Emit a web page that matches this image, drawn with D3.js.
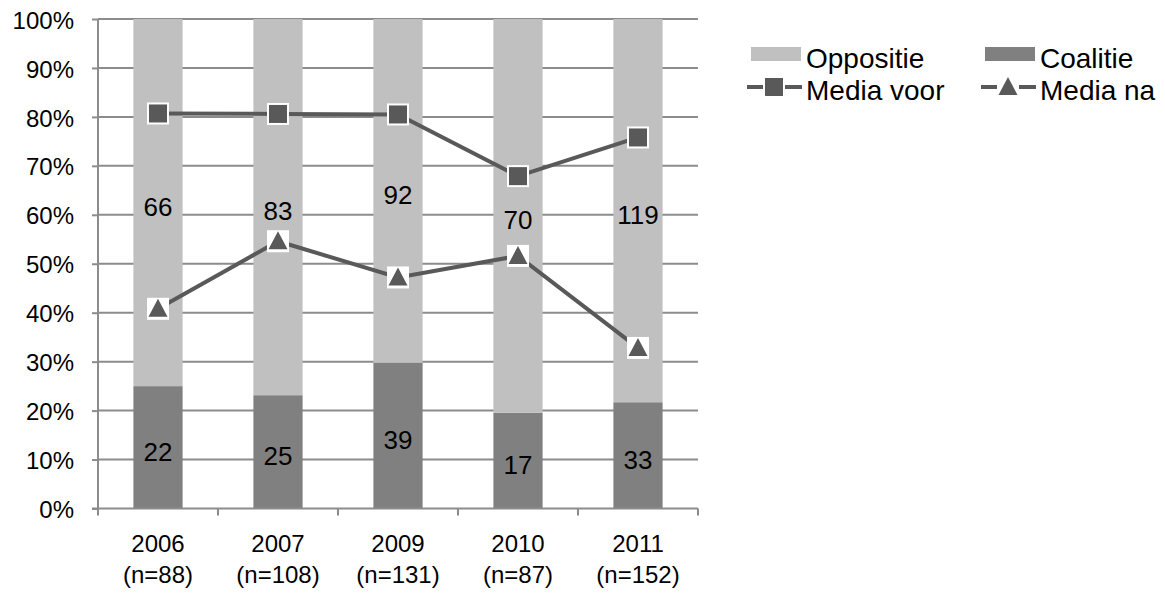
<!DOCTYPE html>
<html>
<head>
<meta charset="utf-8">
<script src="https://cdn.jsdelivr.net/npm/d3@7"></script>
<style>
  html, body { margin: 0; padding: 0; background: #fff; }
  svg { display: block; font-family: "Liberation Sans", Arial, Helvetica, sans-serif; }
</style>
</head>
<body>
<svg id="chart" width="1165" height="594"></svg>
<script>
// ---- data ----
const years = ["2006", "2007", "2009", "2010", "2011"];
const nLabels = ["(n=88)", "(n=108)", "(n=131)", "(n=87)", "(n=152)"];
const coalitie = [22, 25, 39, 17, 33];
const oppositie = [66, 83, 92, 70, 119];
const mediaVoor = [80.7, 80.6, 80.5, 67.9, 75.8];
const mediaNa = [40.8, 54.6, 47.2, 51.6, 32.8];
const yTicks = [0, 10, 20, 30, 40, 50, 60, 70, 80, 90, 100];

const colOpp = "#c0c0c0", colCoal = "#808080", colLine = "#595959", colGrid = "#8c8c8c";

const svg = d3.select("#chart");
const m = { left: 98, right: 698, top: 19, bottom: 508.5 };

const x = d3.scaleBand().domain(years).range([m.left, m.right]).paddingInner(0.59).paddingOuter(0.295);
const xc = d => x(d) + x.bandwidth() / 2;
const y = d3.scaleLinear().domain([0, 100]).range([m.bottom, m.top]);

// gridlines
svg.append("g").selectAll("line").data(yTicks.filter(t => t > 0)).join("line")
  .attr("x1", m.left).attr("x2", m.right)
  .attr("y1", d => y(d)).attr("y2", d => y(d))
  .attr("stroke", colGrid).attr("stroke-width", 2);

// stacked 100% bars
const rows = years.map((yr, i) => {
  const tot = coalitie[i] + oppositie[i];
  const c = coalitie[i] / tot * 100;
  return { yr, c, o: 100 - c, cn: coalitie[i], on: oppositie[i] };
});
const bars = svg.append("g");
bars.selectAll("rect.coal").data(rows).join("rect").attr("class", "coal")
  .attr("x", d => x(d.yr)).attr("width", x.bandwidth())
  .attr("y", d => y(d.c)).attr("height", d => y(0) - y(d.c))
  .attr("fill", colCoal);
bars.selectAll("rect.opp").data(rows).join("rect").attr("class", "opp")
  .attr("x", d => x(d.yr)).attr("width", x.bandwidth())
  .attr("y", d => y(100)).attr("height", d => y(d.c) - y(100))
  .attr("fill", colOpp);

// data labels
const lbl = svg.append("g").attr("font-size", 26).attr("text-anchor", "middle").attr("fill", "#000");
lbl.selectAll("text.c").data(rows).join("text").attr("class", "c")
  .attr("x", d => xc(d.yr)).attr("y", d => y(d.c / 2) + 4).attr("dy", "0.36em").text(d => d.cn);
lbl.selectAll("text.o").data(rows).join("text").attr("class", "o")
  .attr("x", d => xc(d.yr)).attr("y", d => y(d.c + d.o / 2) + 4).attr("dy", "0.36em").text(d => d.on);

// axes
const yAxis = d3.axisLeft(y).tickValues(yTicks).tickSize(6).tickFormat(d => d + "%");
const gy = svg.append("g").attr("transform", `translate(${m.left},0)`).call(yAxis);
gy.select(".domain").attr("stroke", colGrid).attr("stroke-width", 2).attr("d", `M-6,${y(0)}H0V${y(100)}`);
gy.selectAll(".tick line").attr("stroke", colGrid).attr("stroke-width", 2);
gy.selectAll(".tick text").attr("font-size", 24).attr("fill", "#000").attr("x", -24).attr("dy", "0.38em")
  .attr("font-family", "Liberation Sans, Arial, sans-serif");

const xEdges = d3.scaleLinear().domain([0, years.length]).range([m.left, m.right]);
const gx = svg.append("g");
gx.append("line").attr("x1", m.left).attr("x2", m.right).attr("y1", y(0)).attr("y2", y(0))
  .attr("stroke", colGrid).attr("stroke-width", 2);
gx.selectAll("line.t").data(d3.range(years.length + 1)).join("line").attr("class", "t")
  .attr("x1", d => xEdges(d)).attr("x2", d => xEdges(d))
  .attr("y1", y(0)).attr("y2", y(0) + 7)
  .attr("stroke", colGrid).attr("stroke-width", 2);
const xl = gx.selectAll("text.xl").data(years).join("text").attr("class", "xl")
  .attr("x", d => xc(d)).attr("text-anchor", "middle").attr("font-size", 24).attr("fill", "#000");
xl.append("tspan").attr("x", d => xc(d)).attr("y", 552).text(d => d);
xl.append("tspan").attr("x", d => xc(d)).attr("y", 583).text((d, i) => nLabels[i]);

// lines
const line = d3.line().x((d, i) => xc(years[i])).y(d => y(d));
function drawSeries(vals, shape) {
  const g = svg.append("g");
  g.append("path").attr("d", line(vals)).attr("fill", "none")
    .attr("stroke", colLine).attr("stroke-width", 4);
  vals.forEach((v, i) => drawMarker(g, xc(years[i]), y(v), shape));
}
function drawMarker(g, cx, cy, shape) {
  g.append("rect").attr("x", cx - 11).attr("y", cy - 11).attr("width", 22).attr("height", 22).attr("fill", "#fff");
  if (shape === "square") {
    g.append("rect").attr("x", cx - 9).attr("y", cy - 9).attr("width", 18).attr("height", 18).attr("fill", colLine);
  } else {
    g.append("path").attr("d", `M${cx},${cy - 10}L${cx + 9.5},${cy + 8}L${cx - 9.5},${cy + 8}Z`).attr("fill", colLine);
  }
}
drawSeries(mediaVoor, "square");
drawSeries(mediaNa, "triangle");

// legend
const legend = svg.append("g").attr("font-size", 28).attr("fill", "#000");
const legItems = [
  { name: "Oppositie", type: "rect", color: colOpp, sx: 751, tx: 806, cy: 54, ty: 58 },
  { name: "Coalitie", type: "rect", color: colCoal, sx: 985, tx: 1040, cy: 54, ty: 58 },
  { name: "Media voor", type: "square", sx: 747, tx: 806, cy: 87, ty: 90 },
  { name: "Media na", type: "triangle", sx: 981, tx: 1040, cy: 87, ty: 90 }
];
legItems.forEach(it => {
  if (it.type === "rect") {
    legend.append("rect").attr("x", it.sx).attr("y", it.cy - 7).attr("width", 50).attr("height", 14).attr("fill", it.color);
  } else {
    legend.append("line").attr("x1", it.sx).attr("x2", it.sx + 55).attr("y1", it.cy).attr("y2", it.cy)
      .attr("stroke", colLine).attr("stroke-width", 4);
    drawMarker(legend, it.sx + 27, it.cy, it.type);
  }
  legend.append("text").attr("x", it.tx).attr("y", it.ty).attr("dy", "0.36em").text(it.name);
});
</script>
</body>
</html>
